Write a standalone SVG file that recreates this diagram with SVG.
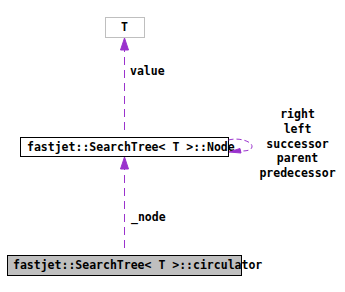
<svg xmlns="http://www.w3.org/2000/svg" width="345" height="292" viewBox="0 0 345 292">
<style>
text{font-family:"DejaVu Sans Mono","Liberation Mono",monospace;font-weight:bold;font-size:11.5px;fill:#000}
.e{fill:none;stroke:#9a32cd;stroke-width:1;stroke-dasharray:8,5}
.ah{fill:#9a32cd;stroke:#9a32cd}
</style>
<rect width="345" height="292" fill="#fff"/>
<g id="node-T">
<rect x="105.5" y="17.5" width="39" height="20" fill="#fff" stroke="#bfbfbf"/>
<text x="124.5" y="31" text-anchor="middle">T</text>
</g>
<g id="node-Node">
<rect x="20.5" y="137.5" width="208" height="19" fill="#fff" stroke="#000"/>
<text x="27" y="150.5">fastjet::SearchTree&lt; T &gt;::Node</text>
</g>
<g id="node-circulator">
<rect x="7.5" y="255.5" width="234" height="20" fill="#bfbfbf" stroke="#000"/>
<text x="13" y="269">fastjet::SearchTree&lt; T &gt;::circulator</text>
</g>
<g id="connectors">
<path class="e" d="M124.5,130 V50"/>
<polygon class="ah" points="124.5,38 120.5,50 128.5,50"/>
<text x="130" y="75">value</text>
<path class="e" d="M124.5,248 V168"/>
<polygon class="ah" points="124.5,157 120.5,169 128.5,169"/>
<text x="131" y="221">_node</text>
<path class="e" style="stroke-dasharray:5,3" d="M228.5,140 C240,137 253,142 252,147 C251,151 245,151 240,151"/>
<polygon class="ah" points="229,152 240,148.5 241,153"/>
<text x="297.5" y="118" text-anchor="middle">right</text>
<text x="297.5" y="133" text-anchor="middle">left</text>
<text x="297.5" y="148" text-anchor="middle">successor</text>
<text x="297.5" y="162" text-anchor="middle">parent</text>
<text x="297.5" y="177" text-anchor="middle">predecessor</text>
</g>
</svg>
